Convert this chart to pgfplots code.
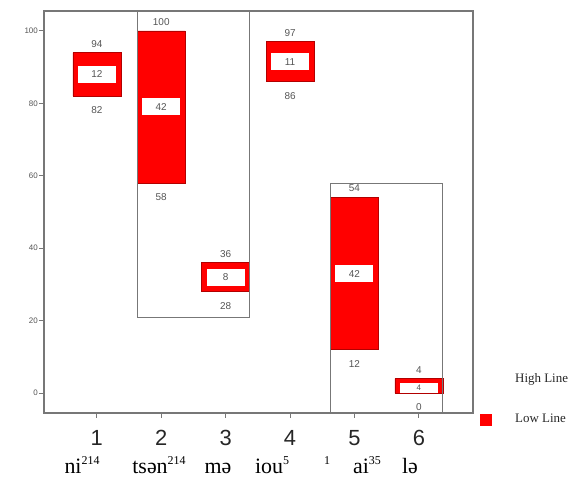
\documentclass[border=0pt]{standalone}
\usepackage{pgfplots}
\pgfplotsset{compat=1.18}
\usepackage{pgfplotstable}
\usepackage{fontspec}
\setmainfont{Liberation Serif}
\newfontfamily\arial{Liberation Sans}
\definecolor{axgray}{HTML}{777777}
\definecolor{lblgray}{HTML}{555555}

\pgfplotstableread{
x low diff high mid
1 82 12 94 88
2 58 42 100 79
3 28 8 36 32
4 86 11 97 91.5
5 12 42 54 33
6 0 4 4 2
}\data

\pgfplotstableread{
x diff mid
1 12 88
2 42 79
3 8 32
4 11 91.5
5 42 33
}\datamid

\newcommand{\sups}[1]{\raisebox{8.5bp}{\fontsize{12}{12}\selectfont #1}}

\pgfplotsset{common/.style={
  scale only axis, width=429bp, height=402bp,
  xmin=0.18, xmax=6.84, ymin=-5.5, ymax=105.5,
  /pgf/number format/assume math mode=true,
}}

\begin{document}
\begin{tikzpicture}
\begin{axis}[common, ybar stacked, bar width=48bp, axis lines=none, xtick=\empty, ytick=\empty]
\addplot[draw=none, fill=none] table[x=x,y=low]{\data};
\addplot[fill=red, draw=red!70!black, line width=0.6bp] table[x=x,y=diff]{\data};
\end{axis}
\begin{axis}[common,
  axis line style={axgray, line width=1.3bp},
  xtick={1,2,3,4,5,6}, ytick={0,20,40,60,80,100},
  xtick pos=bottom, ytick pos=left, tick align=outside,
  major tick length=5bp, tick style={axgray, line width=1bp},
  xticklabel style={font=\arial\fontsize{22}{22}\selectfont, text=black!85, yshift=-9bp},
  yticklabel style={font=\arial\fontsize{8}{8}\selectfont, text=lblgray, inner sep=1bp},
  clip=false,
]
\addplot[axgray, line width=1bp] coordinates {(1.63,105.5) (1.63,21) (3.37,21) (3.37,105.5)};
\addplot[axgray, line width=1bp] coordinates {(4.63,-5.5) (4.63,58) (6.37,58) (6.37,-5.5)};
\addplot[draw=none, mark=none, nodes near coords, point meta=explicit symbolic,
  nodes near coords style={anchor=center, yshift=9bp, font=\arial\fontsize{10}{10}\selectfont, text=lblgray}]
  table[x=x, y=high, meta=high]{\data};
\addplot[draw=none, mark=none, nodes near coords, point meta=explicit symbolic,
  nodes near coords style={anchor=center, yshift=-14bp, font=\arial\fontsize{10}{10}\selectfont, text=lblgray}]
  table[x=x, y=low, meta=low]{\data};
\addplot[draw=none, mark=none, nodes near coords, point meta=explicit symbolic,
  nodes near coords style={anchor=center, fill=white, minimum width=38bp, minimum height=17bp, inner sep=0pt, font=\arial\fontsize{10}{10}\selectfont, text=lblgray}]
  table[x=x, y=mid, meta=diff]{\datamid};
\addplot[draw=none, mark=none, nodes near coords, point meta=explicit symbolic,
  nodes near coords style={anchor=center, fill=white, minimum width=38bp, minimum height=10.5bp, inner sep=0pt, font=\arial\fontsize{8}{8}\selectfont, text=lblgray}]
  coordinates {(6,1.35) [4]};
\end{axis}
\begin{scope}[every node/.style={font=\fontsize{22}{22}\selectfont, anchor=base, inner sep=0pt}]
\node at ([xshift=38bp,yshift=-60bp]current axis.south west) {ni\sups{214}};
\node at ([xshift=115bp,yshift=-60bp]current axis.south west) {tsən\sups{214}};
\node at ([xshift=174bp,yshift=-60bp]current axis.south west) {mə};
\node at ([xshift=228bp,yshift=-60bp]current axis.south west) {iou\sups{5}};
\node at ([xshift=283bp,yshift=-60bp]current axis.south west) {\sups{1}};
\node at ([xshift=323bp,yshift=-60bp]current axis.south west) {ai\sups{35}};
\node at ([xshift=366bp,yshift=-60bp]current axis.south west) {lə};
\end{scope}
\node[anchor=west, font=\fontsize{13}{13}\selectfont, inner sep=0pt, text=black!85] at ([xshift=42bp,yshift=34bp]current axis.south east) {High Line};
\node[anchor=west, font=\fontsize{13}{13}\selectfont, inner sep=0pt, text=black!85] at ([xshift=42bp,yshift=-5bp]current axis.south east) {Low Line};
\fill[red] ([xshift=7bp,yshift=-13bp]current axis.south east) rectangle ([xshift=19bp,yshift=-1bp]current axis.south east);
\pgfresetboundingbox
\path ([xshift=-44bp,yshift=-68bp]current axis.south west) rectangle ([xshift=112bp,yshift=11bp]current axis.north east);
\end{tikzpicture}
\end{document}
